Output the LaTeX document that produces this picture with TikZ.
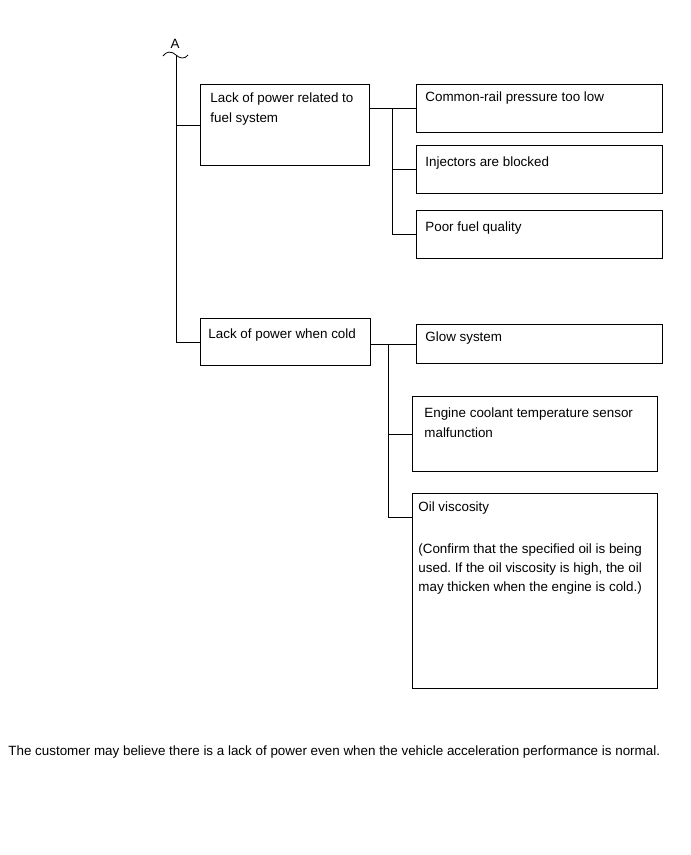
\documentclass[tikz,border=0pt]{standalone}
\usepackage{fontspec}
\setmainfont{Liberation Sans}
\usetikzlibrary{calc,positioning}
\frenchspacing

\begin{document}
\begin{tikzpicture}[x=1pt,y=-1pt,line width=0.8pt,
  box/.style={draw,inner sep=0pt,anchor=north west},
  txt/.style={font=\fontsize{13.4}{19.3}\selectfont,inner sep=0pt,anchor=north west,align=left}]
  \useasboundingbox (0,0) rectangle (691,855);
  % break mark and trunk
  \node[txt,anchor=center] (A) at (175,44) {A};
  \coordinate (top) at (176,55);
  \draw (163,56) .. controls (166,51) and (172,51) .. (top) .. controls (180,59) and (185,59) .. (188,55);
  % fuel system branch
  \node[box,minimum width=169pt,minimum height=81pt] (b1) at (200,84) {};
  \node[box,minimum width=246pt,minimum height=48pt] (b2) at (416,84) {};
  \node[box,minimum width=246pt,minimum height=48pt] (b3) at (416,145) {};
  \node[box,minimum width=246pt,minimum height=48pt] (b4) at (416,210) {};
  \node[txt] (t1) at ($(b1.north west)+(10,5)$) {\strut Lack of power related to\\fuel system};
  \node[txt] (t2) at ($(b2.north west)+(9,4)$) {\strut Common-rail pressure too low};
  \node[txt] (t3) at ($(b3.north west)+(9,8)$) {\strut Injectors are blocked};
  \node[txt] (t4) at ($(b4.north west)+(9,8)$) {\strut Poor fuel quality};
  % cold branch
  \node[box,minimum width=170pt,minimum height=47pt] (b5) at (200,318) {};
  \node[box,minimum width=246pt,minimum height=39pt] (b6) at (416,324) {};
  \node[box,minimum width=245pt,minimum height=75pt] (b7) at (412,396) {};
  \node[box,minimum width=245pt,minimum height=195pt] (b8) at (412,493) {};
  \node[txt] (t5) at ($(b5.north west)+(8,7)$) {\strut Lack of power when cold};
  \node[txt] (t6) at ($(b6.north west)+(9,4)$) {\strut Glow system};
  \node[txt] (t7) at ($(b7.north west)+(12,8)$) {\strut Engine coolant temperature sensor\\malfunction};
  \node[txt] (t8) at ($(b8.north west)+(6,5)$) {\strut Oil viscosity\\[22pt](Confirm that the specified oil is being\\used. If the oil viscosity is high, the oil\\may thicken when the engine is cold.)};
  % connectors
  \draw (top) |- (b5.west);
  \draw (top |- b1.west) -- (b1.west);
  \coordinate (s1) at (392,0);
  \draw (b1.east |- b2.west) -- (b2.west);
  \draw (s1 |- b2.west) |- (b4.west);
  \draw (s1 |- b3.west) -- (b3.west);
  \coordinate (s2) at (388,0);
  \coordinate (o8) at ($(b8.north west)+(0,24)$);
  \draw (b5.east |- b6.west) -- (b6.west);
  \draw (s2 |- b6.west) |- (o8);
  \draw (s2 |- b7.west) -- (b7.west);
  % note
  \node[txt] (note) at (8,742) {\strut The customer may believe there is a lack of power even when the vehicle acceleration performance is normal.};
\end{tikzpicture}
\end{document}
